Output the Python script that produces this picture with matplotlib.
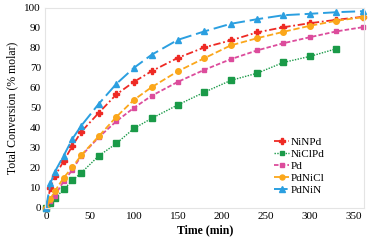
import matplotlib
matplotlib.use("Agg")
import matplotlib.pyplot as plt

plt.rcParams["font.family"] = ["Liberation Serif", "DejaVu Serif"]

time_min = [0, 5, 10, 20, 30, 40, 60, 80, 100, 120, 150, 180, 210, 240, 270, 300, 330, 360]

ninpd = [0, 10, 15.8, 23.3, 31, 38, 47.5, 56.7, 63, 68.3, 75, 80.2, 83.7, 87.7, 90.3, 92.3, 94, 95.5]
niclpd = [0, 2.5, 4.7, 9.2, 13.7, 17.5, 26, 32.2, 39.7, 44.7, 51.5, 57.8, 63.7, 67.3, 72.7, 75.7, 79.5]
pd = [0, 3.3, 6, 13.3, 19, 26, 35.3, 43.3, 50, 56, 63, 69, 74.3, 78.7, 82.3, 85.3, 88.2, 90.3]
pdnicl = [0, 4.5, 8.3, 15, 20.3, 26.3, 35.8, 45.5, 54, 60.3, 68.3, 74.8, 81.2, 84.8, 88, 91, 93.5, 95.3]
pdnin = [0, 12.2, 18, 26, 34.5, 41, 52, 62, 70, 76.5, 84, 88.2, 92, 94.3, 96.3, 97, 97.8, 98.3]

fig = plt.figure(figsize=(3.76, 2.44), dpi=100)
ax = fig.add_axes([0.12, 0.148, 0.849, 0.82])

ax.plot(time_min, ninpd, color="#ee2a24", ls=(0, (4, 1.5, 1, 1.5)), lw=1.3,
        marker="P", ms=4.2, label="NiNPd", clip_on=False)
ax.plot(time_min[:len(niclpd)], niclpd, color="#1a9a48", ls=(0, (1, 1)), lw=1.0,
        marker="s", ms=3.8, label="NiClPd", clip_on=False)
ax.plot(time_min, pd, color="#dc4c9c", ls=(0, (2.5, 1.2)), lw=1.3,
        marker="s", ms=3.0, label="Pd", clip_on=False)
ax.plot(time_min, pdnicl, color="#fba71b", ls=(0, (3.5, 1.5)), lw=1.3,
        marker="o", ms=4.0, label="PdNiCl", clip_on=False)
ax.plot(time_min, pdnin, color="#2b9fe0", ls=(0, (7, 2.5)), lw=1.4,
        marker="^", ms=4.3, label="PdNiN", clip_on=False)

ax.set_xlim(-1, 362)
ax.set_ylim(0, 100)
ax.set_xticks(range(0, 351, 50))
ax.set_yticks(range(0, 101, 10))
ax.tick_params(labelsize=8, length=0, pad=3)
for s in ax.spines.values():
    s.set_color("#e4e4e4")
    s.set_linewidth(0.8)

ax.set_xlabel("Time (min)", fontsize=8.5, fontweight="bold", labelpad=2)
ax.set_ylabel("Total Conversion (% molar)", fontsize=8.5, labelpad=4)

ax.legend(loc="lower right", bbox_to_anchor=(0.885, 0.17),
          bbox_transform=fig.transFigure, fontsize=8,
          frameon=False, handlelength=1.4, handletextpad=0.15,
          labelspacing=0.2, borderpad=0.2, markerscale=0.9)

fig.savefig("out.png", dpi=100)
